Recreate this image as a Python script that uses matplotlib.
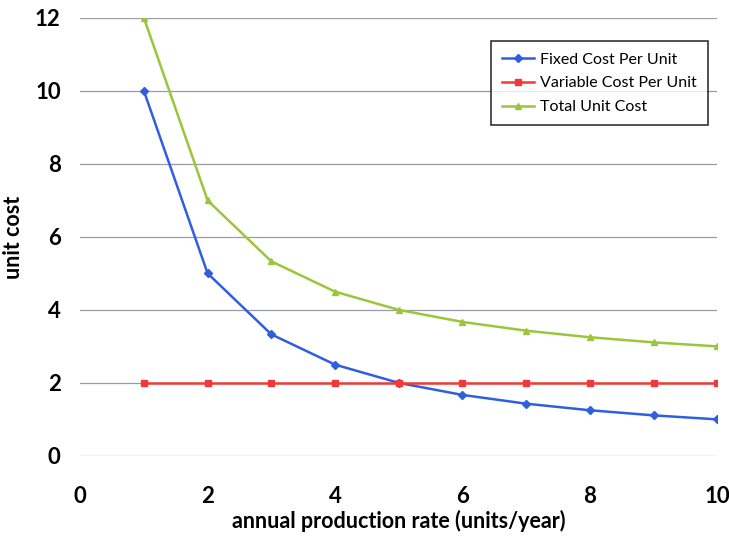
import matplotlib.pyplot as plt

x = [1, 2, 3, 4, 5, 6, 7, 8, 9, 10]
fixed = [10.0, 5.0, 3.33, 2.5, 2.0, 1.67, 1.43, 1.25, 1.11, 1.0]
variable = [2.0, 2.0, 2.0, 2.0, 2.0, 2.0, 2.0, 2.0, 2.0, 2.0]
total = [12.0, 7.0, 5.33, 4.5, 4.0, 3.67, 3.43, 3.25, 3.11, 3.0]

plt.rcParams['font.family'] = ['Lato', 'DejaVu Sans']

fig = plt.figure(figsize=(7.29, 5.44), dpi=100)
ax = fig.add_axes([0.11, 0.162, 0.874, 0.805])

ax.plot(x, fixed, color='#2f5fe0', marker='D', markersize=4, lw=1.8, label='Fixed Cost Per Unit')
ax.plot(x, variable, color='#f03a3a', marker='s', markersize=5, lw=1.8, label='Variable Cost Per Unit')
ax.plot(x, total, color='#9cc63a', marker='^', markersize=5, lw=1.8, label='Total Unit Cost')

ax.set_xlim(0, 10)
ax.set_ylim(0, 12)
ax.set_xticks(range(0, 11, 2))
ax.set_yticks(range(0, 13, 2))
ax.grid(axis='y', color='#9a9aaa', lw=0.9)
ax.set_axisbelow(True)
for s in ax.spines.values():
    s.set_visible(False)
ax.tick_params(axis='y', length=0, labelsize=16, pad=14)
ax.tick_params(axis='x', length=0, labelsize=16, pad=22)
for lab in ax.get_xticklabels() + ax.get_yticklabels():
    lab.set_fontweight('bold')
ax.set_xlabel('annual production rate (units/year)', fontsize=15.5, fontweight='bold', labelpad=2)
ax.set_ylabel('unit cost', fontsize=15.5, fontweight='bold', labelpad=8)

leg = ax.legend(loc='upper right', bbox_to_anchor=(0.998, 0.965), fontsize=11.5, frameon=True,
                fancybox=False, edgecolor='black', handlelength=2.0, handletextpad=0.4,
                borderpad=0.7, labelspacing=0.6)
leg.get_frame().set_linewidth(1.2)

fig.savefig('out.png', dpi=100)
